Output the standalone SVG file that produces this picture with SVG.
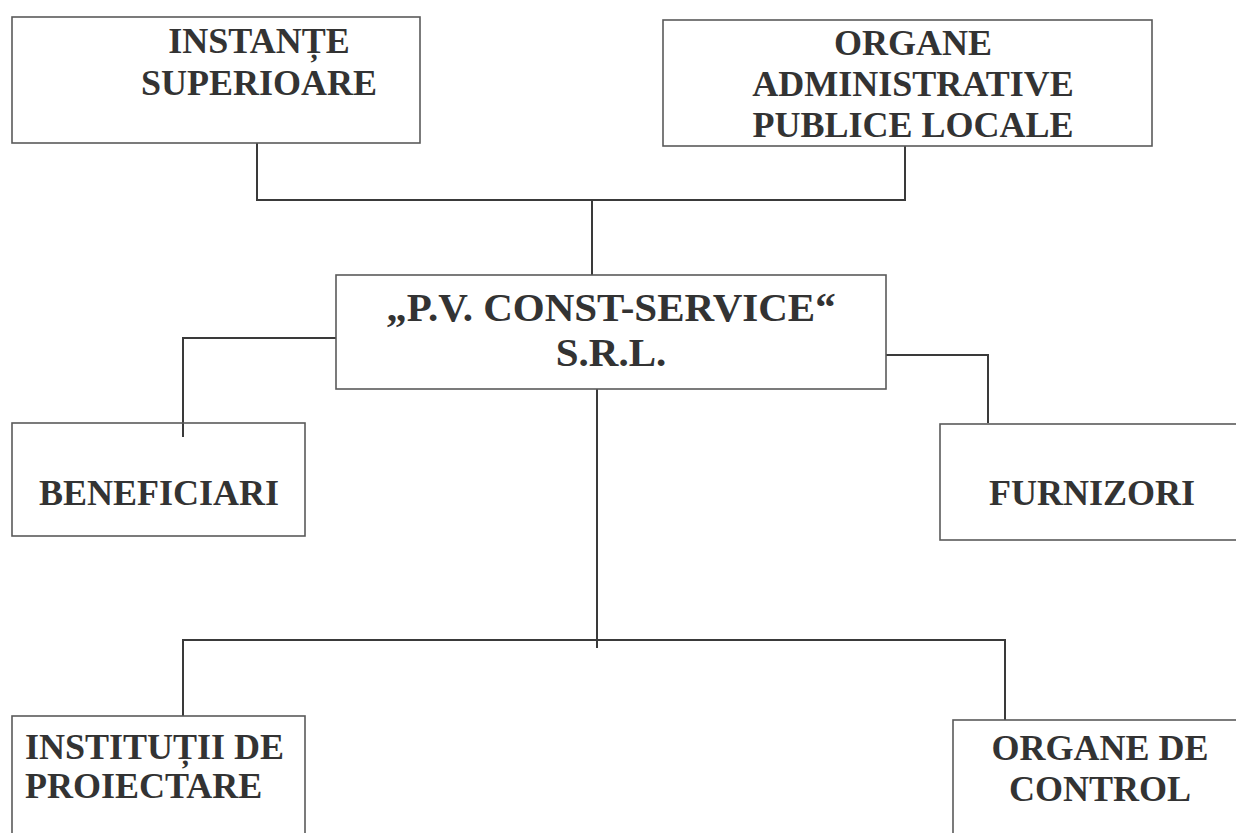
<svg xmlns="http://www.w3.org/2000/svg" width="1236" height="833" viewBox="0 0 1236 833">
<style>
.box{fill:none;stroke:#5a5a5a;stroke-width:1.6}
.ln{fill:none;stroke:#3a3a3a;stroke-width:2}
.t{font-family:"Liberation Serif","Times New Roman",serif;font-weight:bold;font-size:36px;fill:#333;text-anchor:middle}
.tl{text-anchor:start}
.big{font-size:41px}
</style>
<rect width="1236" height="833" fill="#fff"/>
<g id="connectors">
<polyline class="ln" points="257,143 257,200 905,200 905,146"/>
<line class="ln" x1="592" y1="200" x2="592" y2="275"/>
<polyline class="ln" points="336,338 183,338 183,437"/>
<polyline class="ln" points="886,355 988,355 988,423"/>
<line class="ln" x1="597" y1="389" x2="597" y2="648"/>
<polyline class="ln" points="183,716 183,640 1005,640 1005,720"/>
</g>
<g id="instante">
<rect class="box" x="12" y="17" width="408" height="126"/>
<text class="t" x="259" y="53">INSTANȚE</text>
<text class="t" x="259" y="95">SUPERIOARE</text>
</g>
<g id="organe-admin">
<rect class="box" x="663" y="20" width="489" height="126"/>
<text class="t" x="913" y="55">ORGANE</text>
<text class="t" x="913" y="96">ADMINISTRATIVE</text>
<text class="t" x="913" y="137">PUBLICE LOCALE</text>
</g>
<g id="firma">
<rect class="box" x="336" y="275" width="550" height="114"/>
<text class="t big" x="611" y="321">„P.V. CONST-SERVICE“</text>
<text class="t big" x="611" y="366">S.R.L.</text>
</g>
<g id="beneficiari">
<rect class="box" x="12" y="423" width="293" height="113"/>
<text class="t" x="159" y="505">BENEFICIARI</text>
</g>
<g id="furnizori">
<rect class="box" x="940" y="424" width="300" height="116"/>
<text class="t" x="1092" y="505">FURNIZORI</text>
</g>
<g id="institutii">
<rect class="box" x="12" y="716" width="293" height="130"/>
<text class="t tl" x="25" y="759">INSTITUȚII DE</text>
<text class="t tl" x="25" y="798">PROIECTARE</text>
</g>
<g id="organe-control">
<rect class="box" x="953" y="720" width="290" height="130"/>
<text class="t" x="1100" y="760">ORGANE DE</text>
<text class="t" x="1100" y="801">CONTROL</text>
</g>
</svg>
